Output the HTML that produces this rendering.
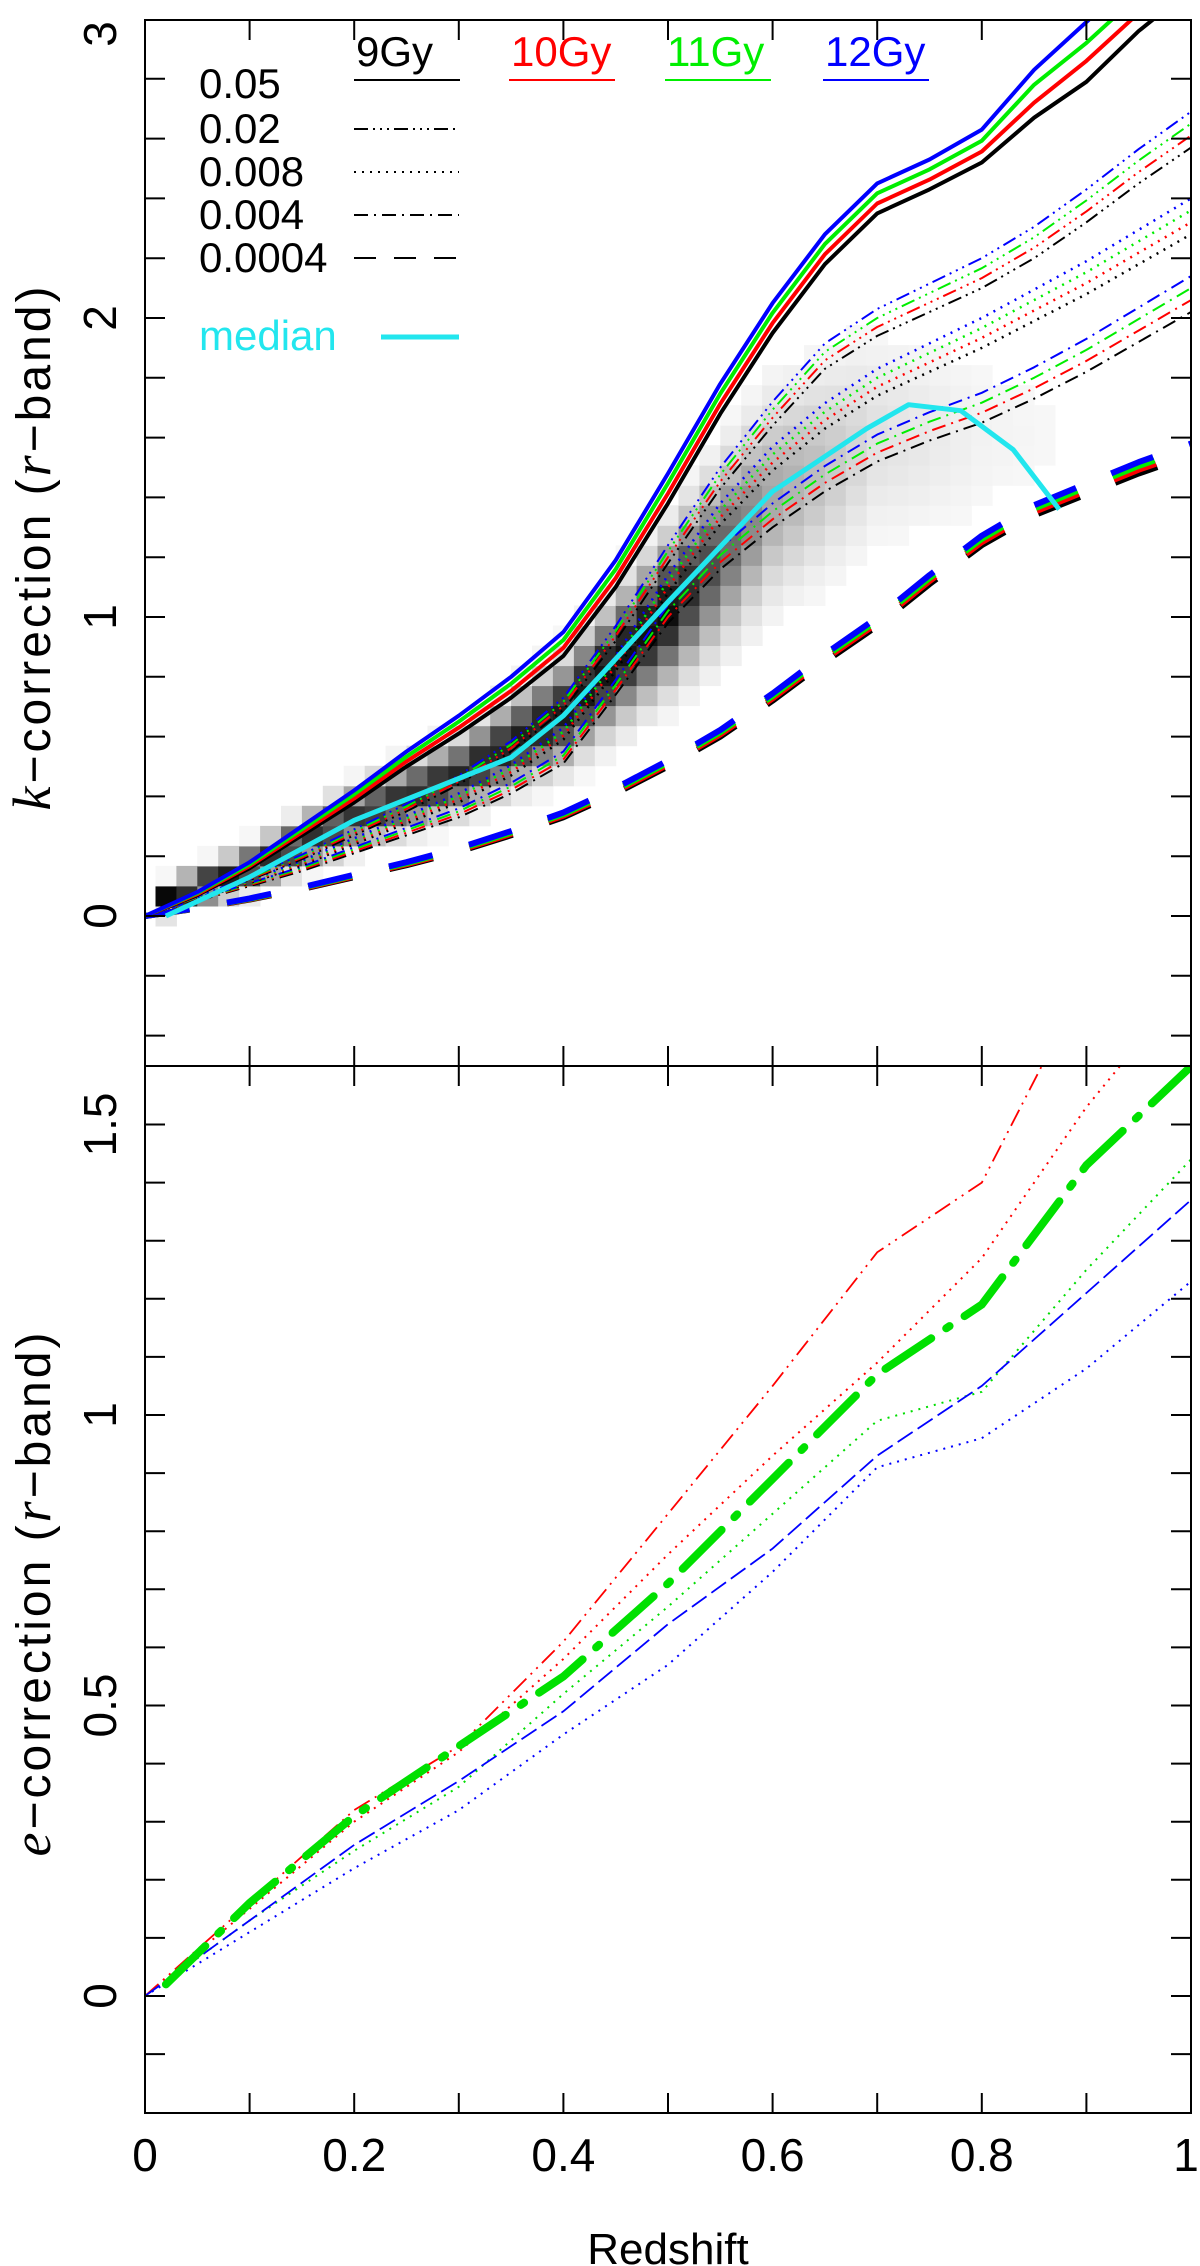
<!DOCTYPE html>
<html><head><meta charset="utf-8">
<style>
html,body{margin:0;padding:0;background:#fff;}
svg{display:block;}
text{font-family:"Liberation Sans",sans-serif;}
</style></head>
<body>
<svg id="chart" width="1200" height="2266" viewBox="0 0 1200 2266" xmlns="http://www.w3.org/2000/svg">
  <defs>
    <clipPath id="clipTop"><rect x="145" y="20" width="1046" height="1046"/></clipPath>
    <clipPath id="clipBot"><rect x="145" y="1066" width="1046" height="1047"/></clipPath>
  </defs>
  <g id="heat" clip-path="url(#clipTop)"></g>
  <g id="topLines" clip-path="url(#clipTop)"></g>
  <g id="botLines" clip-path="url(#clipBot)"></g>
  <g id="axes"></g>
  <g id="legend"></g>
</svg>
<script>
// ---------- data ----------
const zTop = [0,0.05,0.1,0.15,0.2,0.25,0.3,0.35,0.4,0.45,0.5,0.55,0.6,0.65,0.7,0.75,0.8,0.85,0.9,0.95,1.0];
const zGrid = [0,0.1,0.2,0.3,0.4,0.5,0.6,0.7,0.8,0.9,1.0];
const ages = ["9Gy","10Gy","11Gy","12Gy"];
const ageColors = ["#000000","#ff0000","#00ee00","#0000ff"];
// k-correction, Z=0.05 (solid)
const kZ05_9  = [0,0.07,0.16,0.27,0.38,0.50,0.61,0.73,0.87,1.10,1.38,1.68,1.95,2.18,2.35,2.43,2.52,2.67,2.79,2.96,3.10];
const kZ05_10 = [0,0.073,0.167,0.28,0.393,0.517,0.63,0.753,0.897,1.13,1.413,1.713,1.983,2.213,2.383,2.463,2.557,2.72,2.86,3.02,3.16];
const kZ05_11 = [0,0.077,0.173,0.29,0.407,0.533,0.65,0.777,0.923,1.16,1.447,1.747,2.017,2.247,2.417,2.497,2.593,2.78,2.92,3.08,3.22];
const kZ05_12 = [0,0.08,0.18,0.30,0.42,0.55,0.67,0.80,0.95,1.19,1.48,1.78,2.05,2.28,2.45,2.53,2.63,2.83,2.99,3.15,3.30];
// Z=0.02 (dash-dot-dot-dot), 9Gy
const kZ02_9  = [0,0.06,0.12,0.19,0.27,0.35,0.44,0.55,0.69,0.92,1.18,1.43,1.64,1.83,1.94,2.02,2.10,2.20,2.32,2.45,2.57];
// Z=0.008 (dotted), 9Gy
const kZ008_9 = [0,0.055,0.11,0.17,0.24,0.31,0.38,0.47,0.59,0.82,1.08,1.31,1.49,1.63,1.74,1.82,1.90,1.99,2.08,2.18,2.28];
// Z=0.004 (dash-dot), 9Gy
const kZ004_9 = [0,0.05,0.10,0.15,0.21,0.27,0.33,0.41,0.51,0.74,0.98,1.16,1.30,1.42,1.52,1.59,1.65,1.73,1.82,1.92,2.02];
// 12Gy minus 9Gy difference for the low-metallicity groups (10Gy/11Gy lie between)
const ageOffsetLowZ = [0,0.005,0.01,0.015,0.02,0.025,0.03,0.035,0.04,0.05,0.06,0.07,0.08,0.085,0.09,0.095,0.1,0.105,0.11,0.115,0.12];
// Z=0.0004 (dashed), 9Gy
const kZ0004_9 = [0,0.025,0.055,0.09,0.13,0.17,0.215,0.27,0.33,0.41,0.50,0.60,0.72,0.85,0.97,1.11,1.24,1.34,1.41,1.48,1.54];
const ageOffsetDashed = [0,0.002,0.004,0.006,0.008,0.01,0.012,0.014,0.016,0.018,0.02,0.022,0.024,0.026,0.028,0.03,0.032,0.034,0.036,0.038,0.04];
// median
const medZ = [0.02,0.1,0.2,0.3,0.35,0.4,0.45,0.5,0.6,0.69,0.73,0.78,0.83,0.874];
const medK = [0,0.13,0.32,0.46,0.53,0.67,0.86,1.05,1.42,1.63,1.71,1.69,1.56,1.36];
// heatmap column profile
const heatZ = [0.02,0.1,0.2,0.3,0.4,0.5,0.6,0.7,0.8,0.9];
const heatCenter = [0.06,0.16,0.33,0.47,0.68,1.02,1.40,1.60,1.60,1.60];
const heatPeak = [1.0,0.85,0.8,0.85,0.9,0.95,0.35,0.12,0.05,0.02];
const heatSpread = [0.04,0.06,0.08,0.10,0.14,0.20,0.28,0.30,0.30,0.30];
// e-correction (bottom)
const eGreenMain = [0,0.16,0.31,0.43,0.55,0.71,0.89,1.07,1.19,1.43,1.60];
const eRedDash = [0,0.16,0.32,0.43,0.61,0.83,1.05,1.28,1.40,1.75,1.95];
const eRedDot = [0,0.15,0.30,0.42,0.58,0.76,0.93,1.09,1.27,1.53,1.75];
const eGreenDot = [0,0.13,0.25,0.36,0.52,0.67,0.83,0.99,1.04,1.25,1.44];
const eBlueDash = [0,0.13,0.26,0.37,0.49,0.64,0.77,0.93,1.05,1.21,1.37];
const eBlueDot = [0,0.11,0.22,0.32,0.45,0.57,0.73,0.91,0.96,1.08,1.23];

// ---------- scales ----------
const X0=145, X1=1191;
const xs = z => X0 + (X1-X0)*z;
const yTop = k => 916 - 299*k;
const yBot = e => 1996 - 581*e;
const NS="http://www.w3.org/2000/svg";
function mk(tag, attrs, parent){const el=document.createElementNS(NS,tag);for(const a in attrs)el.setAttribute(a,attrs[a]);parent.appendChild(el);return el;}
function pathD(zs, vs, ys){return zs.map((z,i)=>(i?"L":"M")+xs(z).toFixed(1)+","+ys(vs[i]).toFixed(1)).join(" ");}
function interp(xa, ya, x){ if(x<=xa[0])return ya[0]; for(let i=1;i<xa.length;i++){ if(x<=xa[i]){const t=(x-xa[i-1])/(xa[i]-xa[i-1]);return ya[i-1]+t*(ya[i]-ya[i-1]);} } return ya[ya.length-1]; }

// ---------- heatmap ----------
const heat=document.getElementById("heat");
for(let c=1;c<=44;c++){
  const z=c*0.02;
  const center=interp(heatZ,heatCenter,z);
  const pk=interp(heatZ,heatPeak,z), sp=interp(heatZ,heatSpread,z);
  for(let r=-8;r<=40;r++){
    const k=r*0.067;
    const v=pk*Math.exp(-Math.pow((k-center)/sp,2));
    if(v<0.03)continue;
    const g=Math.round(255*(1-v));
    const cell=mk("rect",{x:xs(z-0.01).toFixed(1),y:yTop(k+0.0335).toFixed(1),width:(xs(0.02)-X0+0.5).toFixed(1),height:(0.067*299+0.5).toFixed(1),fill:`rgb(${g},${g},${g})`},heat);
    
    
  }
}

// ---------- top lines ----------
const topG=document.getElementById("topLines");
function drawLine(vals,color,w,dash,name){
  const p=mk("path",{d:pathD(zTop,vals,yTop),fill:"none",stroke:color,"stroke-width":w,"stroke-dasharray":dash,"stroke-linejoin":"round"},topG);
  
  
}
[[kZ0004_9,ageOffsetDashed,"45,38",6,"z0004"],[kZ004_9,ageOffsetLowZ,"14,6,2,6",2,"z004"],[kZ008_9,ageOffsetLowZ,"2,6",2.5,"z008"],[kZ02_9,ageOffsetLowZ,"14,5,2,5,2,5,2,5",2,"z02"]].forEach(g=>{
  for(let i=0;i<4;i++){
    const vals=g[0].map((v,j)=>v+g[1][j]*i/3);
    drawLine(vals,ageColors[i],g[3],g[2],'kcorr-'+g[4]+'-'+ages[i]);
  }
});
[kZ05_9,kZ05_10,kZ05_11,kZ05_12].forEach((vals,i)=>drawLine(vals,ageColors[i],4,"",'kcorr-z05-'+ages[i]));
const med=mk("path",{d:pathD(medZ,medK,yTop),fill:"none",stroke:"#22e6ee","stroke-width":5,"stroke-linejoin":"round"},topG);



// ---------- bottom lines ----------
const botG=document.getElementById("botLines");
const bl=[
  [eRedDash,"#ff0000","18,6,2,6,2,6",1.8,"red-dash"],
  [eRedDot,"#ff0000","2,6",2,"red-dot"],
  [eGreenDot,"#00dd00","2,6",2,"green-dot"],
  [eBlueDash,"#0000ff","18,6",1.8,"blue-dash"],
  [eBlueDot,"#0000ff","2,6",2,"blue-dot"]
];
bl.forEach(b=>{
  const p=mk("path",{d:pathD(zGrid,b[0],yBot),fill:"none",stroke:b[1],"stroke-width":b[3],"stroke-dasharray":b[2]},botG);
  
  
});
const gm=mk("path",{d:"M"+xs(0.02)+","+yBot(0.02)+" "+pathD(zGrid.slice(1),eGreenMain.slice(1),yBot).replace(/^M/,"L"),fill:"none",stroke:"#00e000","stroke-width":8,"stroke-dasharray":"55,18,4,18","stroke-linecap":"round"},botG);



// ---------- axes ----------
const ax=document.getElementById("axes");
function frame(y0,y1,nm){const r=mk("rect",{x:X0,y:y0,width:X1-X0,height:y1-y0,fill:"none",stroke:"#000","stroke-width":2},ax);}
frame(20,1066,"top-panel-frame");
frame(1066,2113,"bottom-panel-frame");
const xTicks=[0,0.1,0.2,0.3,0.4,0.5,0.6,0.7,0.8,0.9,1.0];
xTicks.forEach(z=>{
  [[20,1],[1066,-1],[1066,1],[2113,-1]].forEach(([y,d])=>mk("line",{x1:xs(z),x2:xs(z),y1:y,y2:y+d*20,stroke:"#000","stroke-width":2},ax));
});
const topYTicks=[-0.4,-0.2,0,0.2,0.4,0.6,0.8,1,1.2,1.4,1.6,1.8,2,2.2,2.4,2.6,2.8];
topYTicks.forEach(k=>{mk("line",{x1:X0,x2:X0+20,y1:yTop(k),y2:yTop(k),stroke:"#000","stroke-width":2},ax);mk("line",{x1:X1,x2:X1-20,y1:yTop(k),y2:yTop(k),stroke:"#000","stroke-width":2},ax);});
const botYTicks=[-0.1,0,0.1,0.2,0.3,0.4,0.5,0.6,0.7,0.8,0.9,1,1.1,1.2,1.3,1.4,1.5];
botYTicks.forEach(e=>{mk("line",{x1:X0,x2:X0+20,y1:yBot(e),y2:yBot(e),stroke:"#000","stroke-width":2},ax);mk("line",{x1:X1,x2:X1-20,y1:yBot(e),y2:yBot(e),stroke:"#000","stroke-width":2},ax);});
function rotLabel(txt,x,y,size,nm){const t=mk("text",{x:x,y:y,"font-size":size,"text-anchor":"middle",transform:`rotate(-90 ${x} ${y})`,fill:"#000"},ax);t.textContent=txt;return t;}
const topLabels=["0","1","2","3"];
const topLabelVals=[0,1,2,3];
topLabels.forEach((s,i)=>rotLabel(s,116,Math.max(yTop(topLabelVals[i]),34),46,"top-y-tick-label"));
const botLabels=["0","0.5","1","1.5"];
const botLabelVals=[0,0.5,1,1.5];
botLabels.forEach((s,i)=>rotLabel(s,116,yBot(botLabelVals[i]),46,"bottom-y-tick-label"));
const xLabels=["0","0.2","0.4","0.6","0.8","1"];
const xLabelVals=[0,0.2,0.4,0.6,0.8,1];
xLabels.forEach((s,i)=>{const t=mk("text",{x:Math.min(xs(xLabelVals[i]),1186),y:2171,"font-size":46,"text-anchor":"middle",fill:"#000"},ax);t.textContent=s;});
const xt=mk("text",{x:668,y:2264,"font-size":44,"text-anchor":"middle",fill:"#000"},ax);xt.textContent="Redshift";


const yt1=rotLabel("",50,547,48,"top-y-axis-title");
yt1.setAttribute("letter-spacing","3");
yt1.innerHTML='<tspan font-family="Liberation Serif" font-style="italic" font-size="54">k</tspan>−correction (<tspan font-family="Liberation Serif" font-style="italic" font-size="54">r</tspan>−band)';
const yt2=rotLabel("",50,1593,48,"bottom-y-axis-title");
yt2.setAttribute("letter-spacing","3");
yt2.innerHTML='<tspan font-family="Liberation Serif" font-style="italic" font-size="54">e</tspan>−correction (<tspan font-family="Liberation Serif" font-style="italic" font-size="54">r</tspan>−band)';

// ---------- legend ----------
const lg=document.getElementById("legend");
const legLabels=["0.05","0.02","0.008","0.004","0.0004"];
const legDash=["","14,5,2,5,2,5,2,5","2,6","14,6,2,6","22,18"];
const legY=[98,143,186,229,272];
legLabels.forEach((s,i)=>{
  const t=mk("text",{x:199,y:legY[i],"font-size":42,fill:"#000"},lg);t.textContent=s;
  
  
  if(i===0) return; // solid sample coincides with the 9Gy underline
  const l=mk("line",{x1:354,x2:459,y1:legY[i]-14,y2:legY[i]-14,stroke:"#000","stroke-width":2,"stroke-dasharray":legDash[i]},lg);
  
  
});
const ageX=[356,511,667,825];
ages.forEach((a,i)=>{
  const t=mk("text",{x:ageX[i],y:66,"font-size":42,fill:ageColors[i]},lg);t.textContent=a;
  
  
  const l=mk("line",{x1:ageX[i]-2,x2:ageX[i]+104,y1:80,y2:80,stroke:ageColors[i],"stroke-width":2},lg);
  
  
});
const mt=mk("text",{x:199,y:350,"font-size":42,fill:"#22e6ee"},lg);mt.textContent="median";


const ml=mk("line",{x1:381,x2:459,y1:337,y2:337,stroke:"#22e6ee","stroke-width":5},lg);


</script>
</body></html>
